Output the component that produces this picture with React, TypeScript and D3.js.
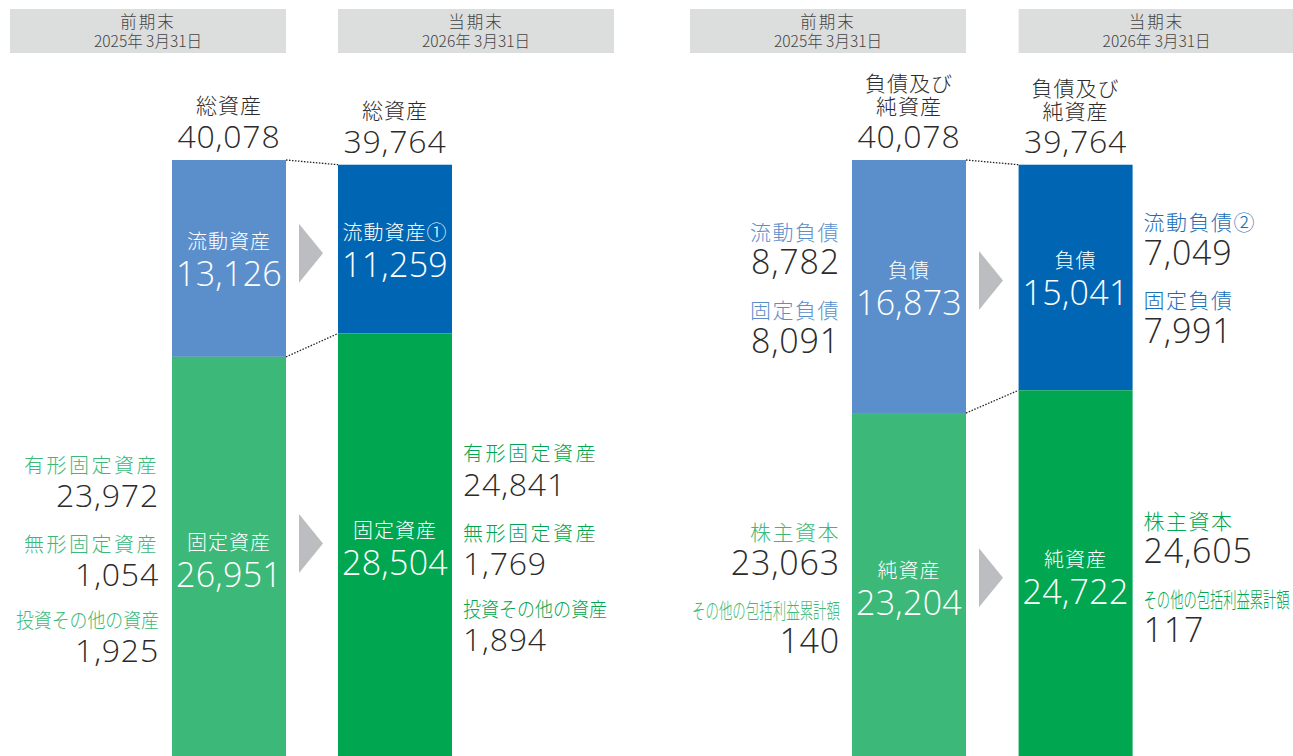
import React from "react";
import * as d3 from "d3";

// ---- data ----
const periods = ["前期末", "当期末"];
const dates = ["2025年 3月31日", "2026年 3月31日"];
const totalAssets = [40078, 39764];
const currentAssets = [13126, 11259];
const fixedAssets = [26951, 28504];
const tangibleFixed = [23972, 24841];
const intangibleFixed = [1054, 1769];
const investments = [1925, 1894];
const totalLiabNet = [40078, 39764];
const liabilities = [16873, 15041];
const currentLiab = [8782, 7049];
const fixedLiab = [8091, 7991];
const netAssets = [23204, 24722];
const shareholdersEquity = [23063, 24605];
const aoci = [140, 117];
const currentAssetLabels = ["流動資産", "流動資産①"];
const currentLiabLabels = ["流動負債", "流動負債②"];

// ---- style ----
const W = 1293;
const H = 756;
const FONT = "'Noto Sans CJK JP', 'Noto Sans', sans-serif";
const NUMFONT = "'Open Sans', 'Noto Sans', sans-serif";
const C = {
  lightBlue: "#5b8fcb",
  darkBlue: "#0066b3",
  lightGreen: "#3cb878",
  darkGreen: "#00a650",
  header: "#dcdddd",
  arrow: "#bcbdc0",
  text: "#2b2b2b",
  darkBlueText: "#1a6fb8",
};
const fmt = d3.format(",");

const y = d3.scaleLinear().domain([0, 40078]).range([761, 160]);
const xLeft = d3.scaleBand().domain(periods).range([172, 452]).paddingInner(52 / 166);
const xRight = d3.scaleBand().domain(periods).range([852, 1133]).paddingInner(52 / 166);
const HEADER_W = 276;

function Header({ x, i }: { x: number; i: number }) {
  return (
    <g>
      <rect x={x} y={9} width={HEADER_W} height={44} fill={C.header} />
      <text x={x + HEADER_W / 2} y={28} textAnchor="middle" fontSize={16.5} letterSpacing={2} fill="#444">
        {periods[i]}
      </text>
      <text x={x + HEADER_W / 2} y={46.5} textAnchor="middle" fontSize={15.5} fill="#444">
        {dates[i]}
      </text>
    </g>
  );
}

function Arrow({ x, cy }: { x: number; cy: number }) {
  const p = d3.path();
  p.moveTo(x, cy - 29.5);
  p.lineTo(x + 24, cy);
  p.lineTo(x, cy + 29.5);
  p.closePath();
  return <path d={p.toString()} fill={C.arrow} />;
}

function Num(props: any) {
  return <text fontFamily={NUMFONT} fontWeight={300} letterSpacing={0.8} {...props} />;
}

function InBar({ cx, cy, label, value }: { cx: number; cy: number; label: string; value: number }) {
  return (
    <g fill="#fff" textAnchor="middle">
      <text x={cx} y={cy - 9} fontSize={20} letterSpacing={1}>{label}</text>
      <Num x={cx} y={cy + 28} fontSize={34} letterSpacing={0.3}>{fmt(value)}</Num>
    </g>
  );
}

type SideItem = { label: string; value: number; color: string; len?: number };

function Side({ x, cy, anchor, items, offsets, labelSize, numSize, spacing }: {
  x: number; cy: number; anchor: "start" | "end"; items: SideItem[]; offsets: number[][];
  labelSize: number; numSize: number; spacing: number;
}) {
  return (
    <g textAnchor={anchor}>
      {items.map((it, k) => (
        <g key={k}>
          <text
            x={x}
            y={cy + offsets[k][0]}
            fontSize={labelSize}
            letterSpacing={it.len ? 0 : spacing}
            fill={it.color}
            textLength={it.len}
            lengthAdjust={it.len ? "spacingAndGlyphs" : undefined}
          >
            {it.label}
          </text>
          <Num x={x} y={cy + offsets[k][1]} fontSize={numSize} fill={C.text}>
            {fmt(it.value)}
          </Num>
        </g>
      ))}
    </g>
  );
}

function Dotted({ x1, y1, x2, y2 }: { x1: number; y1: number; x2: number; y2: number }) {
  return <line x1={x1} y1={y1} x2={x2} y2={y2} stroke="#222" strokeWidth={1.3} strokeDasharray="1.5 1.5" />;
}

export default function App() {
  const bw = xLeft.bandwidth();
  const mid = (a: number, b: number) => (a + b) / 2;

  const L = periods.map((p, i) => {
    const x0 = xLeft(p) as number;
    const top = y(totalAssets[i]);
    const split = y(fixedAssets[i]);
    return { x0, cx: x0 + bw / 2, top, split, upC: mid(top, split), loC: mid(split, y(0)) };
  });
  const R = periods.map((p, i) => {
    const x0 = xRight(p) as number;
    const top = y(totalLiabNet[i]);
    const split = y(netAssets[i]);
    return { x0, cx: x0 + bw / 2, top, split, upC: mid(top, split), loC: mid(split, y(0)) };
  });

  const assetOffsets = [[-86, -51.5], [-6.5, 27.5], [69.5, 103.5]];
  const liabOffsets = [[-47, -12.5], [31, 66]];

  return (
    <svg width={W} height={H} style={{ position: "absolute", left: 0, top: 0 }} fontFamily={FONT} fontWeight={300}>
      <rect width={W} height={H} fill="#fff" />
      <Header x={L[0].x0 + bw - HEADER_W} i={0} />
      <Header x={L[1].x0} i={1} />
      <Header x={R[0].x0 + bw - HEADER_W} i={0} />
      <Header x={R[1].x0} i={1} />

      {L.map((b, i) => (
        <g key={"L" + i}>
          <rect x={b.x0} y={b.top} width={bw} height={b.split - b.top} fill={i === 0 ? C.lightBlue : C.darkBlue} />
          <rect x={b.x0} y={b.split} width={bw} height={y(0) - b.split} fill={i === 0 ? C.lightGreen : C.darkGreen} />
          <text x={b.cx} y={b.top - 47} textAnchor="middle" fontSize={21} letterSpacing={1} fill={C.text}>総資産</text>
          <Num x={b.cx} y={b.top - 12} textAnchor="middle" fontSize={32} fill={C.text}>
            {fmt(totalAssets[i])}
          </Num>
          <InBar cx={b.cx} cy={b.upC} label={currentAssetLabels[i]} value={currentAssets[i]} />
          <InBar cx={b.cx} cy={b.loC} label="固定資産" value={fixedAssets[i]} />
        </g>
      ))}
      <Dotted x1={L[0].x0 + bw} y1={L[0].top} x2={L[1].x0} y2={L[1].top} />
      <Dotted x1={L[0].x0 + bw} y1={L[0].split} x2={L[1].x0} y2={L[1].split} />
      <Arrow x={L[0].x0 + bw + 13} cy={mid(L[0].upC, L[1].upC) - 0.5} />
      <Arrow x={L[0].x0 + bw + 13} cy={mid(L[0].loC, L[1].loC) - 9.5} />

      <Side
        x={L[0].x0 - 13}
        cy={L[0].loC}
        anchor="end"
        labelSize={20}
        numSize={32}
        spacing={2.5}
        offsets={assetOffsets}
        items={[
          { label: "有形固定資産", value: tangibleFixed[0], color: C.lightGreen },
          { label: "無形固定資産", value: intangibleFixed[0], color: C.lightGreen },
          { label: "投資その他の資産", value: investments[0], color: C.lightGreen, len: 143 },
        ]}
      />
      <Side
        x={L[1].x0 + bw + 11}
        cy={L[1].loC}
        anchor="start"
        labelSize={20}
        numSize={32}
        spacing={2.5}
        offsets={assetOffsets}
        items={[
          { label: "有形固定資産", value: tangibleFixed[1], color: C.darkGreen },
          { label: "無形固定資産", value: intangibleFixed[1], color: C.darkGreen },
          { label: "投資その他の資産", value: investments[1], color: C.darkGreen, len: 144 },
        ]}
      />

      {R.map((b, i) => (
        <g key={"R" + i}>
          <rect x={b.x0} y={b.top} width={bw} height={b.split - b.top} fill={i === 0 ? C.lightBlue : C.darkBlue} />
          <rect x={b.x0} y={b.split} width={bw} height={y(0) - b.split} fill={i === 0 ? C.lightGreen : C.darkGreen} />
          <text x={b.cx} y={b.top - 69} textAnchor="middle" fontSize={21} letterSpacing={1} fill={C.text}>負債及び</text>
          <text x={b.cx} y={b.top - 46} textAnchor="middle" fontSize={21} letterSpacing={1} fill={C.text}>純資産</text>
          <Num x={b.cx} y={b.top - 12} textAnchor="middle" fontSize={32} fill={C.text}>
            {fmt(totalLiabNet[i])}
          </Num>
          <InBar cx={b.cx} cy={b.upC} label="負債" value={liabilities[i]} />
          <InBar cx={b.cx} cy={b.loC} label="純資産" value={netAssets[i]} />
        </g>
      ))}
      <Dotted x1={R[0].x0 + bw} y1={R[0].top} x2={R[1].x0} y2={R[1].top} />
      <Dotted x1={R[0].x0 + bw} y1={R[0].split} x2={R[1].x0} y2={R[1].split} />
      <Arrow x={R[0].x0 + bw + 13} cy={mid(R[0].upC, R[1].upC) - 1.5} />
      <Arrow x={R[0].x0 + bw + 13} cy={mid(R[0].loC, R[1].loC) - 3.5} />

      <Side
        x={R[0].x0 - 12}
        cy={R[0].upC}
        anchor="end"
        labelSize={21}
        numSize={34}
        spacing={1.5}
        offsets={liabOffsets}
        items={[
          { label: currentLiabLabels[0], value: currentLiab[0], color: C.lightBlue },
          { label: "固定負債", value: fixedLiab[0], color: C.lightBlue },
        ]}
      />
      <Side
        x={R[0].x0 - 12}
        cy={R[0].loC}
        anchor="end"
        labelSize={21}
        numSize={34}
        spacing={1.5}
        offsets={liabOffsets}
        items={[
          { label: "株主資本", value: shareholdersEquity[0], color: C.lightGreen },
          { label: "その他の包括利益累計額", value: aoci[0], color: C.lightGreen, len: 148 },
        ]}
      />
      <Side
        x={R[1].x0 + bw + 11}
        cy={R[1].upC}
        anchor="start"
        labelSize={21}
        numSize={34}
        spacing={1.5}
        offsets={liabOffsets}
        items={[
          { label: currentLiabLabels[1], value: currentLiab[1], color: C.darkBlueText },
          { label: "固定負債", value: fixedLiab[1], color: C.darkBlueText },
        ]}
      />
      <Side
        x={R[1].x0 + bw + 11}
        cy={R[1].loC}
        anchor="start"
        labelSize={21}
        numSize={34}
        spacing={1.5}
        offsets={liabOffsets}
        items={[
          { label: "株主資本", value: shareholdersEquity[1], color: C.darkGreen },
          { label: "その他の包括利益累計額", value: aoci[1], color: C.darkGreen, len: 146 },
        ]}
      />
    </svg>
  );
}
